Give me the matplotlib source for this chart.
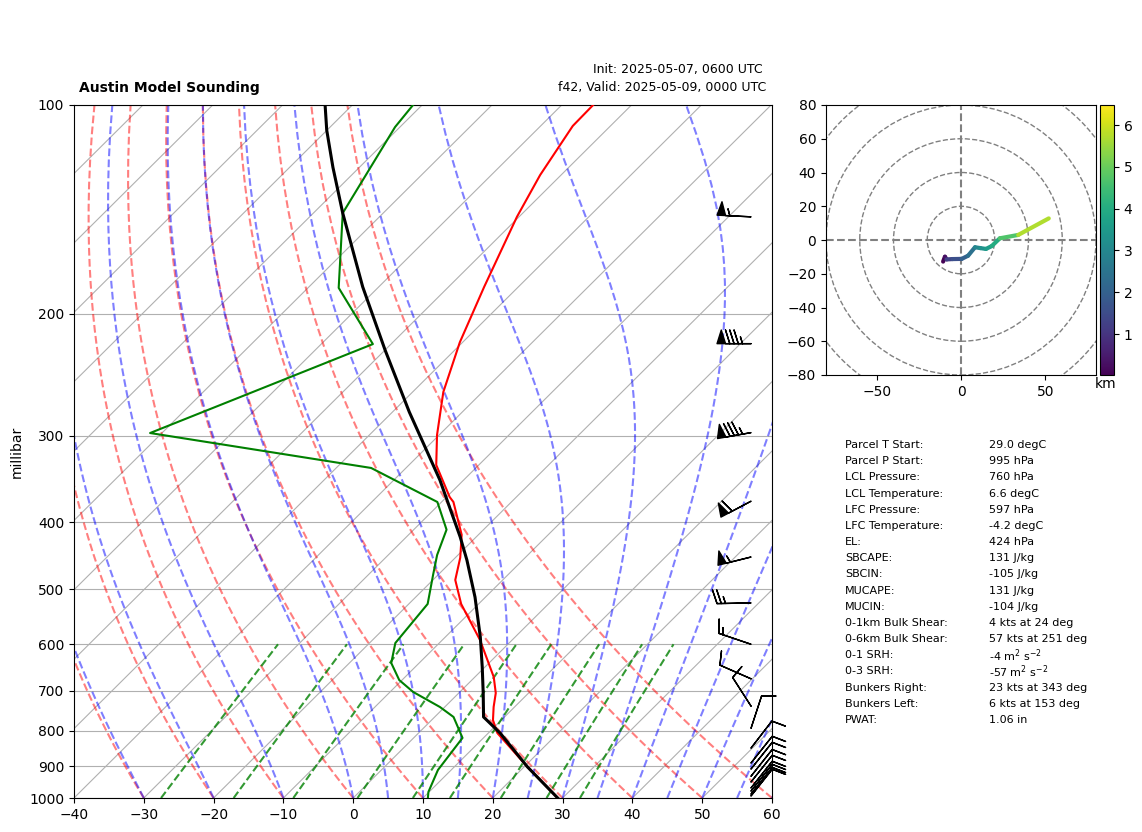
import matplotlib
matplotlib.use('Agg')
import matplotlib.pyplot as plt
import numpy as np
from matplotlib.collections import LineCollection
from matplotlib.patches import Circle
from matplotlib.transforms import Affine2D, blended_transform_factory

W, H = 1142, 832

# sounding (hPa, degC)
temp_p = [100, 107.2, 126.2, 145, 183, 220, 259.5, 299.4, 330.7, 367.9, 374, 417, 450, 484.6,
          524.8, 591.6, 669, 705.6, 739, 772, 806, 902, 1000]
temp_t = [-65.5, -65.4, -63.0, -60.3, -54.9, -50.4, -45.6, -40.3, -36.1, -29.55, -28.3, -22.4, -19.3, -16.8,
          -12.5, -4.6, 2.7, 5.3, 7.0, 8.8, 11.3, 20.5, 29.3]
dew_p = [100, 107.6, 143.2, 183.6, 221.3, 297.4, 334, 374, 410, 446, 476.6, 524.8, 597.5, 638.6,
         675.8, 703, 739, 764, 819, 911, 980, 1000]
dew_t = [-91.3, -90.7, -85.8, -75.6, -62.6, -81.7, -45, -30.6, -25.3, -23, -20.7, -17.3, -16.3, -14,
         -10.4, -6.7, -0.7, 2.7, 7, 8.1, 9.9, 10.7]
parcel_p = [1000, 902, 806, 764, 705.6, 647, 585.6, 513, 453.6, 420, 347.7, 277.3, 225.7, 183,
            143.2, 123, 108.7, 100]
parcel_t = [29.3, 20.5, 11.7, 7, 3.5, -0.4, -5, -11.5, -18, -22.3, -33.4, -47.6, -60, -72.3,
            -85.8, -93.8, -100.05, -103.9]

# wind barbs (hPa, kt)
barb_p = [145, 221, 297, 373, 449, 523, 600, 673, 737, 793, 847, 890, 908, 930, 948, 967, 977, 987, 993]
barb_u = [55, 85, 83.7, 53, 53.4, 25, 14.2, 9.1, 5.4, -3.1, -6.1, -6.2, -6.2, -6.2, -6.2, -6.2, -6.2, -6.2, -6.2]
barb_v = [-2.7, 0, 14.8, 28, 13.3, 0.5, -4.8, -4, -8.4, -9.5, -7.9, -7.8, -7.8, -7.8, -7.8, -7.8, -7.8, -7.8, -7.8]

# hodograph (kt, km)
hodo_u = [-10.6, -9.5, -8.5, -5, 0.4, 4.2, 8.3, 11.5, 14.8, 18.2, 23, 33.9, 52]
hodo_v = [-12.8, -9.9, -11.5, -11.3, -11.2, -9.3, -4.3, -4.8, -5.3, -3.6, 1, 3, 12.8]
hodo_z = [0.02, 0.3, 1.3, 1.6, 2.0, 2.4, 3.0, 3.3, 3.6, 4.0, 4.7, 5.7, 6.48]

stat_names = ['Parcel T Start:', 'Parcel P Start:', 'LCL Pressure:', 'LCL Temperature:', 'LFC Pressure:',
              'LFC Temperature:', 'EL:', 'SBCAPE:', 'SBCIN:', 'MUCAPE:', 'MUCIN:', '0-1km Bulk Shear:',
              '0-6km Bulk Shear:', '0-1 SRH:', '0-3 SRH:', 'Bunkers Right:', 'Bunkers Left:', 'PWAT:']
stat_values = ['29.0 degC', '995 hPa', '760 hPa', '6.6 degC', '597 hPa', '-4.2 degC', '424 hPa', '131 J/kg',
               '-105 J/kg', '131 J/kg', '-104 J/kg', '4 kts at 24 deg', '57 kts at 251 deg',
               r'-4 m$^{2}$ s$^{-2}$', r'-57 m$^{2}$ s$^{-2}$', '23 kts at 343 deg', '6 kts at 153 deg', '1.06 in']

# reference lines of the skew-T diagram
isotherms = np.arange(-130, 70, 10)
dry_t0 = np.arange(-40, 70, 10)
moist_t0 = np.concatenate((np.arange(-40, 1, 10), np.arange(5, 65, 5)))
mixing_ratios = [0.0004, 0.001, 0.002, 0.004, 0.007, 0.01, 0.016, 0.024, 0.032]


def sat_vapor(t):
    return 6.112 * np.exp(17.67 * t / (t + 243.5))


def moist_lapse(t0, p):
    # the thermodynamic definition of a moist adiabat, stepped upward from 1000 hPa
    out = [t0]
    t = t0 + 273.15
    for i in range(len(p) - 1):
        for pp in np.linspace(p[i], p[i + 1], 40, endpoint=False):
            dp = (p[i + 1] - p[i]) / 40
            es = sat_vapor(t - 273.15)
            rs = 0.622 * es / (pp - es)
            slope = (287.0 * t + 2.501e6 * rs) / (1005.0 + 2.501e6 ** 2 * rs * 0.622 / (287.0 * t ** 2)) / pp
            t = t + slope * dp
        out.append(t - 273.15)
    return np.array(out)


fig = plt.figure(figsize=(W / 100, H / 100), dpi=100)
ax = fig.add_axes([74 / W, (H - 798) / H, 698 / W, 693 / H])
ax.set_yscale('log')
ax.set_xlim(-40, 60)
ax.set_ylim(1000, 100)
ax.set_yticks(np.arange(100, 1100, 100))
ax.set_yticklabels([str(v) for v in range(100, 1100, 100)])
ax.minorticks_off()
ax.yaxis.grid(True, color='#b0b0b0', lw=0.8)
ax.set_xticks(np.arange(-40, 70, 10))
ax.set_ylabel('millibar')
ax.yaxis.set_label_coords(-0.0715, 0.5)

# skew about the bottom of the axes
bottom = H - 798
skew = ax.transData + Affine2D().translate(0, -bottom).skew_deg(45.17, 0).translate(0, bottom)

for t in isotherms:
    ax.plot([t, t], [1000, 100], color='#b0b0b0', lw=0.8, transform=skew, zorder=1)

p_lines = np.linspace(1000, 100, 90)
for t in dry_t0:
    ax.plot((t + 273.15) * (p_lines / 1000) ** 0.286 - 273.15, p_lines, color='r', ls='--', lw=1.5, alpha=0.5,
            transform=skew, zorder=2)
for t in moist_t0:
    ax.plot(moist_lapse(t, p_lines), p_lines, color='b', ls='--', lw=1.5, alpha=0.5, transform=skew, zorder=2)
p_mix = np.linspace(1000, 600, 40)
for w in mixing_ratios:
    e = p_mix * w / (0.622 + w)
    ax.plot(243.5 * np.log(e / 6.112) / (17.67 - np.log(e / 6.112)), p_mix, color='g', ls='--', lw=1.5, alpha=0.8,
            transform=skew, zorder=2)

ax.plot(temp_t, temp_p, color='r', lw=1.5, transform=skew, zorder=3)
ax.plot(dew_t, dew_p, color='g', lw=1.5, transform=skew, zorder=3)
ax.plot(parcel_t, parcel_p, color='k', lw=2.2, transform=skew, zorder=4)

ax.barbs(np.full(len(barb_p), 0.97), barb_p, barb_u, barb_v, length=7, clip_on=False, zorder=5,
         transform=blended_transform_factory(ax.transAxes, ax.transData))
ax.set_xlim(-40, 60)
ax.set_ylim(1000, 100)

# hodograph
hax = fig.add_axes([826 / W, (H - 375) / H, 270 / W, 270 / H])
hax.set_xlim(-80, 80)
hax.set_ylim(-80, 80)
hax.set_xticks([-50, 0, 50])
hax.set_yticks(np.arange(-80, 81, 20))
for r in [20, 40, 60, 80, 100]:
    hax.add_patch(Circle((0, 0), r, fill=False, ec='grey', ls='--', lw=1.0))
hax.axhline(0, color='grey', ls='--', lw=1.5)
hax.axvline(0, color='grey', ls='--', lw=1.5)

pts = np.column_stack((hodo_u, hodo_v))
segs = np.stack((pts[:-1], pts[1:]), axis=1)
lc = LineCollection(segs, cmap='viridis', linewidths=3, capstyle='round', zorder=3)
lc.set_array(np.array(hodo_z[:-1]))
lc.set_clim(0.02, 6.48)
hax.add_collection(lc)

cax = fig.add_axes([1100 / W, (H - 375) / H, 14 / W, 270 / H])
cb = fig.colorbar(lc, cax=cax)
cb.set_ticks([1, 2, 3, 4, 5, 6])
fig.text(1106 / W, 1 - 384 / H, 'km', ha='center', va='center', fontsize=10)

# titles
fig.text(79 / W, 1 - 88 / H, 'Austin Model Sounding', fontsize=10, fontweight='bold', va='center')
fig.text(763 / W, 1 - 70 / H, 'Init: 2025-05-07, 0600 UTC', fontsize=9, ha='right', va='center')
fig.text(766 / W, 1 - 88 / H, 'f42, Valid: 2025-05-09, 0000 UTC', fontsize=9, ha='right', va='center')

# parcel table
rows = np.linspace(445, 720, len(stat_names))
for name, val, y in zip(stat_names, stat_values, rows):
    fig.text(845 / W, 1 - y / H, name, fontsize=8, va='center')
    fig.text(989 / W, 1 - y / H, val, fontsize=8, va='center')

fig.savefig('out.png', dpi=100)
